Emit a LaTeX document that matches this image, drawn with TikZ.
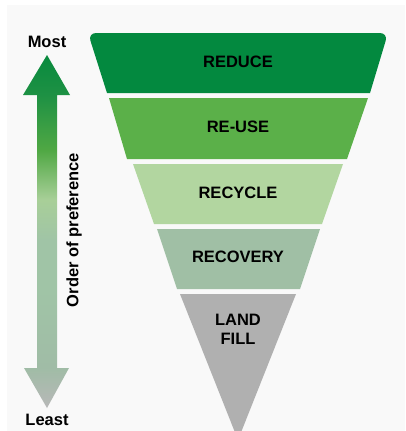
\documentclass[tikz,border=0pt]{standalone}
\usepackage{fontspec}
\setmainfont{Liberation Sans}
\begin{document}
\definecolor{cReduce}{RGB}{3,137,63}
\definecolor{cReuse}{RGB}{91,176,73}
\definecolor{cRecycle}{RGB}{178,214,160}
\definecolor{cRecovery}{RGB}{160,191,165}
\definecolor{cLandfill}{RGB}{176,176,176}
\definecolor{cPage}{RGB}{249,249,249}
\definecolor{aTop}{RGB}{8,138,62}
\definecolor{aDark}{RGB}{30,145,68}
\definecolor{aMid}{RGB}{80,168,68}
\definecolor{aLight}{RGB}{168,207,152}
\definecolor{aSage}{RGB}{160,196,166}
\definecolor{aLow}{RGB}{160,188,166}
\definecolor{aBot}{RGB}{184,184,184}
\pgfdeclareverticalshading{prefshade}{100bp}{%
  color(0bp)=(aBot); color(25bp)=(aBot); color(30.7bp)=(aLow);
  color(41.7bp)=(aSage); color(48.8bp)=(aSage); color(54.5bp)=(aLight);
  color(61.5bp)=(aMid); color(69.3bp)=(aDark); color(75bp)=(aTop); color(100bp)=(aTop)}
\begin{tikzpicture}[x=1pt,y=-1pt,
  lbl/.style={font=\bfseries\fontsize{16.5}{19}\selectfont, text=black, align=center}]
\useasboundingbox (0,0) rectangle (405,431);
\fill[white] (0,0) rectangle (405,431);
\fill[cPage] (7,5) rectangle (405,431);

% funnel bands, top to bottom
\fill[cReduce] (107,93) [rounded corners=8pt] -- (88,33) -- (388,33) [sharp corners] -- (370,93) -- cycle;
\fill[cReuse] (109,98) -- (368,98) -- (347,159) -- (127,159) -- cycle;
\fill[cRecycle] (133,164) -- (343,164) -- (322,224) -- (154,224) -- cycle;
\fill[cRecovery] (157,229) -- (320,229) -- (300,289) -- (177,289) -- cycle;
\fill[cLandfill] (180,294) -- (296,294) [rounded corners=10pt] -- (238,440) [sharp corners] -- cycle;

\node[lbl] (reduce) at (238,62) {REDUCE};
\node[lbl] (reuse) at (238,127) {RE-USE};
\node[lbl] (recycle) at (238,193) {RECYCLE};
\node[lbl] (recovery) at (238,257) {RECOVERY};
\node[lbl, inner sep=0pt] (landfill) at (238,329) {LAND\\FILL};

% double-headed preference arrow
\shade[shading=prefshade] (47,55) -- (70,95) -- (57,95) -- (57,368) -- (69,368)
  -- (47,408) -- (24,368) -- (37,368) -- (37,95) -- (23,95) -- cycle;

\node[lbl] (most) at (47,42) {Most};
\node[lbl] (least) at (47,420) {Least};
\node[lbl, rotate=90] (pref) at (74,230) {Order of preference};
\end{tikzpicture}
\end{document}
